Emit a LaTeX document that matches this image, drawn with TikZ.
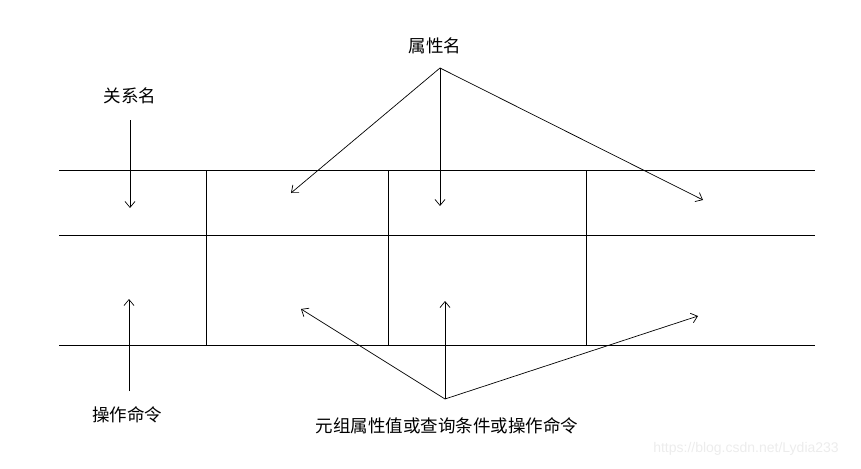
\documentclass[tikz,border=0pt]{standalone}
\usepackage{fontspec}
\newfontfamily\cjk{Noto Sans CJK SC}
\newfontfamily\marcafont{Liberation Sans}
\usepackage{xcolor}
\definecolor{grismarca}{RGB}{236, 236, 236}
\usetikzlibrary{arrows.meta, positioning}
\tikzset{
  etiqueta/.style={font=\cjk\fontsize{17.5}{20}\selectfont, inner sep=0pt},
  flecha/.style={-{Straight Barb[length=6pt,width=10pt]}, line width=0.7pt},
  linea/.style={line width=0.8pt}
}

\begin{document}
\begin{tikzpicture}[x=1pt,y=-1pt]
            \useasboundingbox (0,0) rectangle (861,468);

            % Tabla
            \foreach \y in {170,235,345}
                \draw[linea] (59,\y) -- (815,\y);
            \foreach \x in {206,388,586}
                \draw[linea] (\x,170) -- (\x,345);

            % Etiquetas
            \node[etiqueta] (atributo) at (435,46) {属性名};
            \node[etiqueta] (relacion) at (130,96) {关系名};
            \node[etiqueta] (operacion) at (127,415) {操作命令};
            \node[etiqueta] (tupla) at (447,426) {元组属性值或查询条件或操作命令};
            \node[font=\marcafont\fontsize{14}{16}\selectfont, text=grismarca, inner sep=0pt] (marca) at (746,449) {https://blog.csdn.net/Lydia233};

            % Flechas del nombre de relacion
            \coordinate (r1) at (130,120);
            \coordinate (r2) at (130,208);
            \draw[flecha] (r1) -- (r2);
            \coordinate (o1) at (129,391);
            \coordinate (o2) at (129,299);
            \draw[flecha] (o1) -- (o2);

            % Flechas de atributos
            \coordinate (cima) at (440,68);
            \coordinate (a1) at (291,193);
            \coordinate (a2) at (440,206);
            \coordinate (a3) at (703,200);
            \foreach \p in {a1,a2,a3}
                \draw[flecha] (cima) -- (\p);

            % Flechas de tuplas
            \coordinate (base) at (445,399);
            \coordinate (t1) at (301,309);
            \coordinate (t2) at (445,301);
            \coordinate (t3) at (698,316);
            \foreach \p in {t1,t2,t3}
                \draw[flecha] (base) -- (\p);
        \end{tikzpicture}
\end{document}
